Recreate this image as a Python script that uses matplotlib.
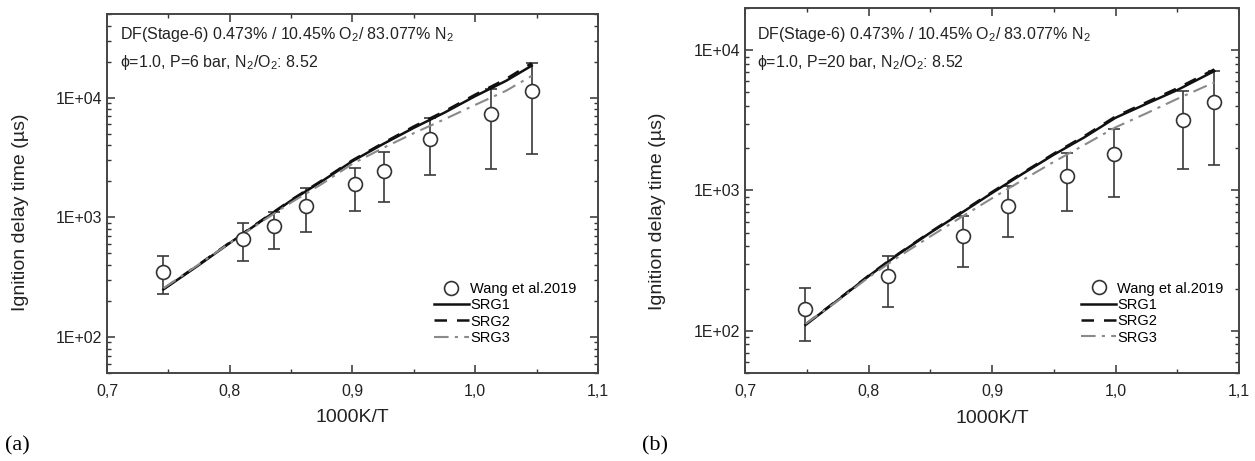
import numpy as np
import matplotlib
matplotlib.use("Agg")
import matplotlib.pyplot as plt
from matplotlib.lines import Line2D
from matplotlib.ticker import LogLocator, FixedLocator, NullFormatter

plt.rcParams['font.family'] = ['Liberation Sans', 'DejaVu Sans']

# ---------------- data: panel (a) P = 6 bar ----------------
exp_x_a = [0.746, 0.811, 0.836, 0.862, 0.902, 0.926, 0.963, 1.013, 1.046]
exp_y_a = [348, 659, 839, 1253, 1886, 2432, 4540, 7320, 11430]
exp_hi_a = [473, 895, 1110, 1747, 2590, 3517, 6785, 11800, 19400]
exp_lo_a = [227, 430, 545, 754, 1140, 1337, 2253, 2525, 3410]

mod_x_a = [0.746, 0.775, 0.80, 0.825, 0.85, 0.875, 0.90, 0.925, 0.95, 0.975, 1.0, 1.025, 1.046]
srg1_a = [250, 400, 610, 920, 1380, 2000, 2950, 4100, 5600, 7500, 10300, 13800, 18500]
srg2_a = [252, 405, 615, 930, 1395, 2030, 3000, 4180, 5750, 7700, 10600, 14300, 19400]
srg3_a = [255, 405, 610, 905, 1330, 1900, 2800, 3800, 5050, 6600, 8700, 11400, 15200]

# ---------------- data: panel (b) P = 20 bar ----------------
exp_x_b = [0.7486, 0.8155, 0.8768, 0.9132, 0.9605, 0.9988, 1.0544, 1.0798]
exp_y_b = [144, 244, 471, 773, 1265, 1808, 3180, 4270]
exp_hi_b = [202, 343, 655, 1073, 1837, 2727, 5120, 7110]
exp_lo_b = [85, 147, 285, 464, 711, 902, 1429, 1516]

mod_x_b = [0.749, 0.775, 0.80, 0.825, 0.85, 0.875, 0.90, 0.925, 0.95, 0.975, 1.0, 1.025, 1.05, 1.08]
srg1_b = [110, 165, 245, 355, 500, 690, 960, 1320, 1800, 2400, 3300, 4150, 5200, 7100]
srg2_b = [111, 166, 247, 358, 505, 700, 975, 1340, 1830, 2450, 3370, 4250, 5350, 7300]
srg3_b = [112, 163, 240, 340, 470, 645, 880, 1190, 1600, 2120, 2820, 3550, 4500, 5900]

x_ticks = [0.7, 0.8, 0.9, 1.0, 1.1]
x_ticklabels = ['0,7', '0,8', '0,9', '1,0', '1,1']

ann1_a = r'DF(Stage-6) 0.473% / 10.45% O$_2$/ 83.077% N$_2$'
ann2_a = r'ϕ=1.0, P=6 bar, N$_2$/O$_2$: 8.52'
ann1_b = r'DF(Stage-6) 0.473% / 10.45% O$_2$/ 83.077% N$_2$'
ann2_b = r'ϕ=1.0, P=20 bar, N$_2$/O$_2$: 8.52'

plt.rcParams['mathtext.fontset'] = 'custom'
plt.rcParams['mathtext.rm'] = 'Liberation Sans'
plt.rcParams['mathtext.it'] = 'Liberation Sans:italic'

W, H = 1255, 461
fig = plt.figure(figsize=(W / 100, H / 100), dpi=100)

def px_axes(l, t, r, b):
    return fig.add_axes([l / W, 1 - b / H, (r - l) / W, (b - t) / H])

ax_a = px_axes(107, 14, 598, 373)
ax_b = px_axes(745, 8, 1239, 373)

ecol = '#3a3a3a'

def draw(ax, ex, ey, ehi, elo, mx, s1, s2, s3, ylim, ann1, ann2, tx, ylab_y, leg_x):
    ey = np.array(ey); ehi = np.array(ehi); elo = np.array(elo)
    ax.errorbar(ex, ey, yerr=[ey - elo, ehi - ey], fmt='none', ecolor=ecol,
                elinewidth=1.2, capsize=4, capthick=1.2, zorder=2)
    ax.plot(mx, s1, color='#111111', lw=1.8, ls='-', zorder=3)
    ax.plot(mx, s2, color='#111111', lw=1.8, ls=(0, (5, 4)), zorder=3)
    ax.plot(mx, s3, color='#8a8a8a', lw=1.5, ls=(0, (7, 3, 1.5, 3)), zorder=3)
    ax.plot(ex, ey, 'o', mfc='white', mec='#333333', mew=1.2, ms=10, ls='none', zorder=4)
    ax.set_yscale('log')
    ax.set_xlim(0.7, 1.1)
    ax.set_ylim(*ylim)
    ax.set_xticks(x_ticks)
    ax.set_xticklabels(x_ticklabels)
    ax.xaxis.set_minor_locator(FixedLocator([0.75, 0.85, 0.95, 1.05]))
    ax.yaxis.set_major_locator(LogLocator(base=10, numticks=10))
    ax.yaxis.set_minor_locator(LogLocator(base=10, subs=np.arange(2, 10), numticks=20))
    ax.yaxis.set_minor_formatter(NullFormatter())
    ax.yaxis.set_major_formatter(matplotlib.ticker.FuncFormatter(
        lambda v, p: '1E+%02d' % int(round(np.log10(v)))))
    ax.tick_params(which='both', direction='in', top=True, right=True,
                   colors='#333333', labelcolor='#222222', labelsize=11.5)
    ax.tick_params(which='major', length=6, width=1.1)
    ax.tick_params(which='minor', length=3, width=1.0)
    ax.tick_params(axis='x', pad=8)
    for sp in ax.spines.values():
        sp.set_color('#444444')
        sp.set_linewidth(1.4)
    ax.set_xlabel('1000K/T', fontsize=14, color='#222222')
    ax.xaxis.set_label_coords(0.5, -0.125)
    ax.xaxis.label.set_va('center')
    ax.set_ylabel('Ignition delay time (µs)', fontsize=14, color='#222222')
    ax.yaxis.set_label_coords(-0.177, ylab_y)
    ax.yaxis.label.set_va('center')
    fig.text(tx / W, 1 - 34 / H, ann1, fontsize=11.5, color='#222222', va='center')
    fig.text(tx / W, 1 - 63 / H, ann2, fontsize=11.5, color='#222222', va='center')
    handles = [
        Line2D([], [], marker='o', mfc='white', mec='#333333', mew=1.2, ms=10, ls='none'),
        Line2D([], [], color='#111111', lw=1.8, ls='-'),
        Line2D([], [], color='#111111', lw=1.8, ls=(0, (5, 4))),
        Line2D([], [], color='#8a8a8a', lw=1.5, ls=(0, (7, 3, 1.5, 3))),
    ]
    ax.legend(handles, ['Wang et al.2019', 'SRG1', 'SRG2', 'SRG3'], loc='lower right',
              bbox_to_anchor=(leg_x, 0.05), frameon=False, fontsize=10.5,
              handlelength=2.4, handletextpad=0.1, labelspacing=0.16, borderpad=0.2)

draw(ax_a, exp_x_a, exp_y_a, exp_hi_a, exp_lo_a, mod_x_a, srg1_a, srg2_a, srg3_a,
     (50, 5e4), ann1_a, ann2_a, 120, 0.448, 0.977)
draw(ax_b, exp_x_b, exp_y_b, exp_hi_b, exp_lo_b, mod_x_b, srg1_b, srg2_b, srg3_b,
     (50, 2e4), ann1_b, ann2_b, 757, 0.444, 0.99)

fig.text(5 / W, 1 - 446 / H, '(a)', fontsize=16, family='Liberation Serif', va='center')
fig.text(642 / W, 1 - 446 / H, '(b)', fontsize=16, family='Liberation Serif', va='center')

fig.savefig('out.png', dpi=100)
